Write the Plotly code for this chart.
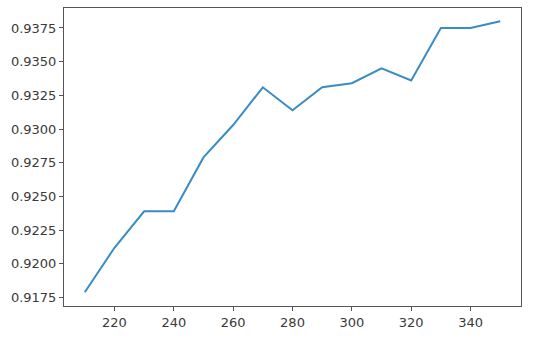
import plotly.graph_objects as go

x_vals = [210, 220, 230, 240, 250, 260, 270, 280, 290, 300, 310, 320, 330, 340, 350]
y_vals = [0.9179, 0.9212, 0.9239, 0.9239, 0.9279, 0.9303, 0.9331, 0.9314, 0.9331,
          0.9334, 0.9345, 0.9336, 0.9375, 0.9375, 0.9380]

fig = go.Figure()
fig.add_trace(go.Scatter(x=x_vals, y=y_vals, mode="lines",
                         line=dict(color="#3b8bc4", width=2), showlegend=False))

axis_common = dict(showgrid=False, zeroline=False, showline=True, linecolor="#555555",
                   linewidth=1, mirror=True, ticks="outside", ticklen=4,
                   tickcolor="#555555", tickwidth=1,
                   tickfont=dict(family="DejaVu Sans", size=13, color="#3a3a3a"))

fig.update_xaxes(range=[203, 357], tickmode="array", tickvals=[220, 240, 260, 280, 300, 320, 340],
                 **axis_common)
fig.update_yaxes(range=[0.91688, 0.93898], tickmode="array",
                 tickvals=[0.9175, 0.92, 0.9225, 0.925, 0.9275, 0.93, 0.9325, 0.935, 0.9375],
                 tickformat=".4f", **axis_common)

fig.update_layout(width=534, height=340, margin=dict(l=64, r=13, t=8, b=34),
                  paper_bgcolor="white", plot_bgcolor="white")

fig.write_html("out.html")
